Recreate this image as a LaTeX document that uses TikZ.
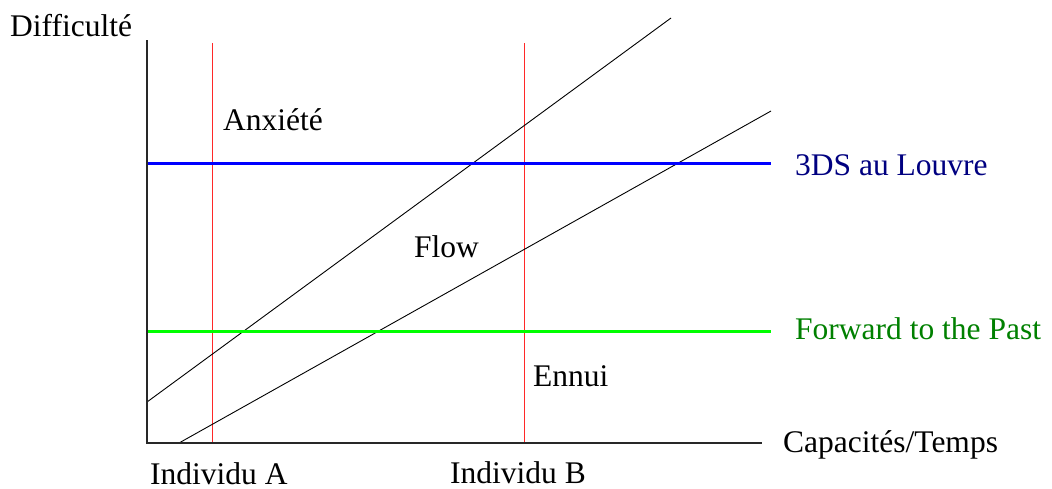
\documentclass[tikz,border=0pt]{standalone}
\usepackage{fontspec}
\setmainfont{Liberation Serif}
\definecolor{navyblue}{RGB}{0,0,128}
\definecolor{darkgreen}{RGB}{0,128,0}
\definecolor{axisgray}{RGB}{40,40,40}
\definecolor{linered}{RGB}{255,40,40}
\begin{document}
\begin{tikzpicture}[x=1pt,y=-1pt,
  lbl/.style={anchor=base west,inner sep=0pt,font=\fontsize{31.5}{36}\selectfont},
  axisline/.style={draw=axisgray,line width=1.3pt},
  redline/.style={draw=linered,line width=1pt},
  diagline/.style={draw=black,line width=0.9pt},
  gameline/.style={line width=3pt}]
\useasboundingbox (0,0) rectangle (1052,488);
% coordinates
\coordinate (O) at (147,443);
\coordinate (Ytop) at (147,40);
\coordinate (Xend) at (762,443);
\coordinate (A0) at (212,443);
\coordinate (A1) at (212,43);
\coordinate (B0) at (524,443);
\coordinate (B1) at (524,43);
\coordinate (U0) at (147,402);
\coordinate (U1) at (671,18);
\coordinate (L0) at (179,443);
\coordinate (L1) at (771,111);
\coordinate (D0) at (147,163);
\coordinate (D1) at (771,163);
\coordinate (F0) at (147,331);
\coordinate (F1) at (771,331);
% lines
\draw[redline] (A0) -- (A1);
\draw[redline] (B0) -- (B1);
\draw[diagline] (U0) -- (U1);
\draw[diagline] (L0) -- (L1);
\draw[gameline,draw=blue] (D0) -- (D1);
\draw[gameline,draw=green] (F0) -- (F1);
\draw[axisline] (Ytop) -- (O) -- (Xend);
% labels
\node[lbl] (diff) at (10,36) {Difficulté};
\node[lbl] (anx) at (223,130) {Anxiété};
\node[lbl] (flow) at (414,257) {Flow};
\node[lbl] (ennui) at (533,386) {Ennui};
\node[lbl] (cap) at (783,452) {Capacités/Temps};
\node[lbl] (indA) at (150,484) {Individu A};
\node[lbl] (indB) at (450,483) {Individu B};
\node[lbl,text=navyblue] (tds) at (795,175) {3DS au Louvre};
\node[lbl,text=darkgreen] (fwd) at (795,339) {Forward to the Past};
\end{tikzpicture}
\end{document}
